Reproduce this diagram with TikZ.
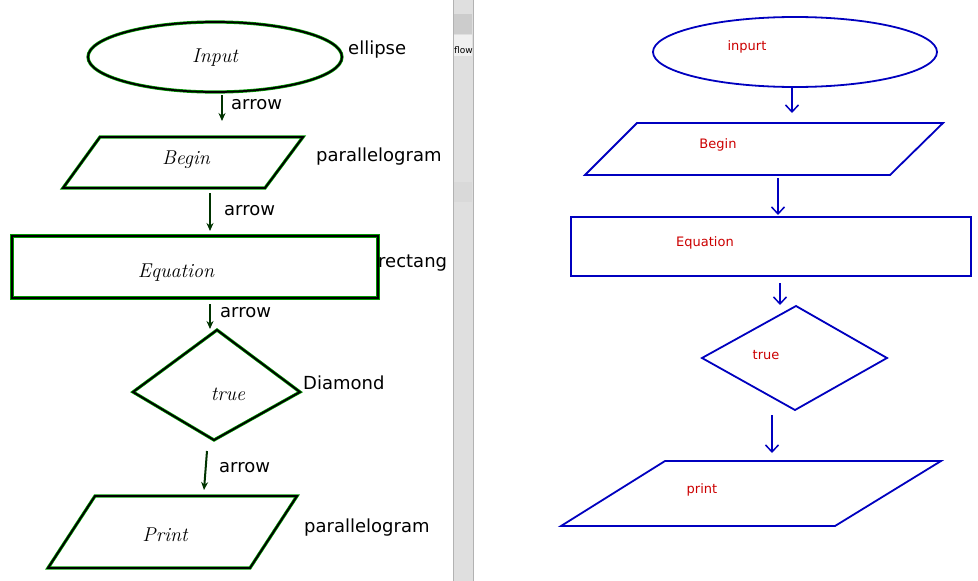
\documentclass[tikz,border=0pt]{standalone}
\usepackage{fontspec}
\setsansfont{DejaVu Sans}
\usetikzlibrary{arrows.meta}
\begin{document}
\begin{tikzpicture}[x=1pt,y=-1pt,
  hand/.style={draw=black,line width=1.8pt,preaction={draw=green!60!black,line width=3.2pt}},
  harrow/.style={draw=black!80!green,line width=2pt,-{Stealth[length=8pt,width=7pt]}},
  lab/.style={font=\sffamily\fontsize{18}{18}\selectfont,anchor=west,inner sep=0pt},
  htext/.style={font=\fontsize{20}{20}\selectfont\itshape},
  blue/.style={draw=blue!75!black,line width=1.8pt},
  barrow/.style={draw=blue!75!black,line width=1.5pt,-{Straight Barb[length=7pt,width=13pt]}},
  rtext/.style={font=\sffamily\fontsize{13}{13}\selectfont,text=red!80!black}]
\useasboundingbox (0,0) rectangle (978,581);
\fill[white] (0,0) rectangle (978,581);
% left hand-drawn chart
\begin{scope}
\clip (0,0) rectangle (453,581);
\draw[hand] (215,57) ellipse [x radius=127,y radius=35];
\node[htext] (in) at (215,58) {Input};
\node[lab] at (348,50) {ellipse};
\coordinate (a1s) at (222,95); \coordinate (a1e) at (222,121);
\draw[harrow] (a1s) -- (a1e);
\node[lab] at (231,105) {arrow};
\draw[hand] (100,137) -- (303,137) -- (265,188) -- (63,188) -- cycle;
\node[htext] (bg) at (186,160) {Begin};
\node[lab] at (316,157) {parallelogram};
\coordinate (a2s) at (210,193); \coordinate (a2e) at (210,231);
\draw[harrow] (a2s) -- (a2e);
\node[lab] at (224,211) {arrow};
\draw[hand] (12,236) rectangle (378,298);
\node[htext] (eq) at (176,273) {Equation};
\node[lab] at (378,263) {rectang};
\coordinate (a3s) at (210,304); \coordinate (a3e) at (210,329);
\draw[harrow] (a3s) -- (a3e);
\node[lab] at (220,313) {arrow};
\draw[hand] (217,330) -- (300,392) -- (214,440) -- (133,392) -- cycle;
\node[htext] (tr) at (228,394) {true};
\node[lab] at (303,383) {Diamond};
\coordinate (a4s) at (207,451); \coordinate (a4e) at (204,490);
\draw[harrow] (a4s) -- (a4e);
\node[lab] at (219,468) {arrow};
\draw[hand] (95,496) -- (297,496) -- (250,568) -- (48,568) -- cycle;
\node[htext] (pr) at (165,535) {Print};
\node[lab] at (304,528) {parallelogram};
\end{scope}
% grey strip
\fill[gray!25] (453,0) rectangle (473,581);
\draw[gray!60] (453,0) -- (453,581) (473,0) -- (473,581);
\fill[gray!40] (454,14) rectangle (472,34);
\fill[gray!12] (454,35) rectangle (472,56);
\node[font=\sffamily\fontsize{9}{9}\selectfont,anchor=west,inner sep=0pt] (fl) at (454,50) {flow};
\fill[gray!30] (454,182) rectangle (472,202);
% right blue chart
\draw[blue] (795,52) ellipse [x radius=142,y radius=35];
\node[rtext] (rin) at (747,47) {inpurt};
\coordinate (b1s) at (792,88); \coordinate (b1e) at (792,113);
\draw[barrow] (b1s) -- (b1e);
\draw[blue] (637,123) -- (943,123) -- (890,175) -- (585,175) -- cycle;
\node[rtext] (rbg) at (718,145) {Begin};
\coordinate (b2s) at (778,178); \coordinate (b2e) at (778,215);
\draw[barrow] (b2s) -- (b2e);
\draw[blue] (571,217) rectangle (971,276);
\node[rtext] (req) at (705,243) {Equation};
\coordinate (b3s) at (780,283); \coordinate (b3e) at (780,305);
\draw[barrow] (b3s) -- (b3e);
\draw[blue] (796,306) -- (887,358) -- (795,410) -- (702,358) -- cycle;
\node[rtext] (rtr) at (766,355) {true};
\coordinate (b4s) at (772,415); \coordinate (b4e) at (772,453);
\draw[barrow] (b4s) -- (b4e);
\draw[blue] (665,461) -- (941,461) -- (835,526) -- (561,526) -- cycle;
\node[rtext] (rpr) at (702,490) {print};
\end{tikzpicture}
\end{document}
